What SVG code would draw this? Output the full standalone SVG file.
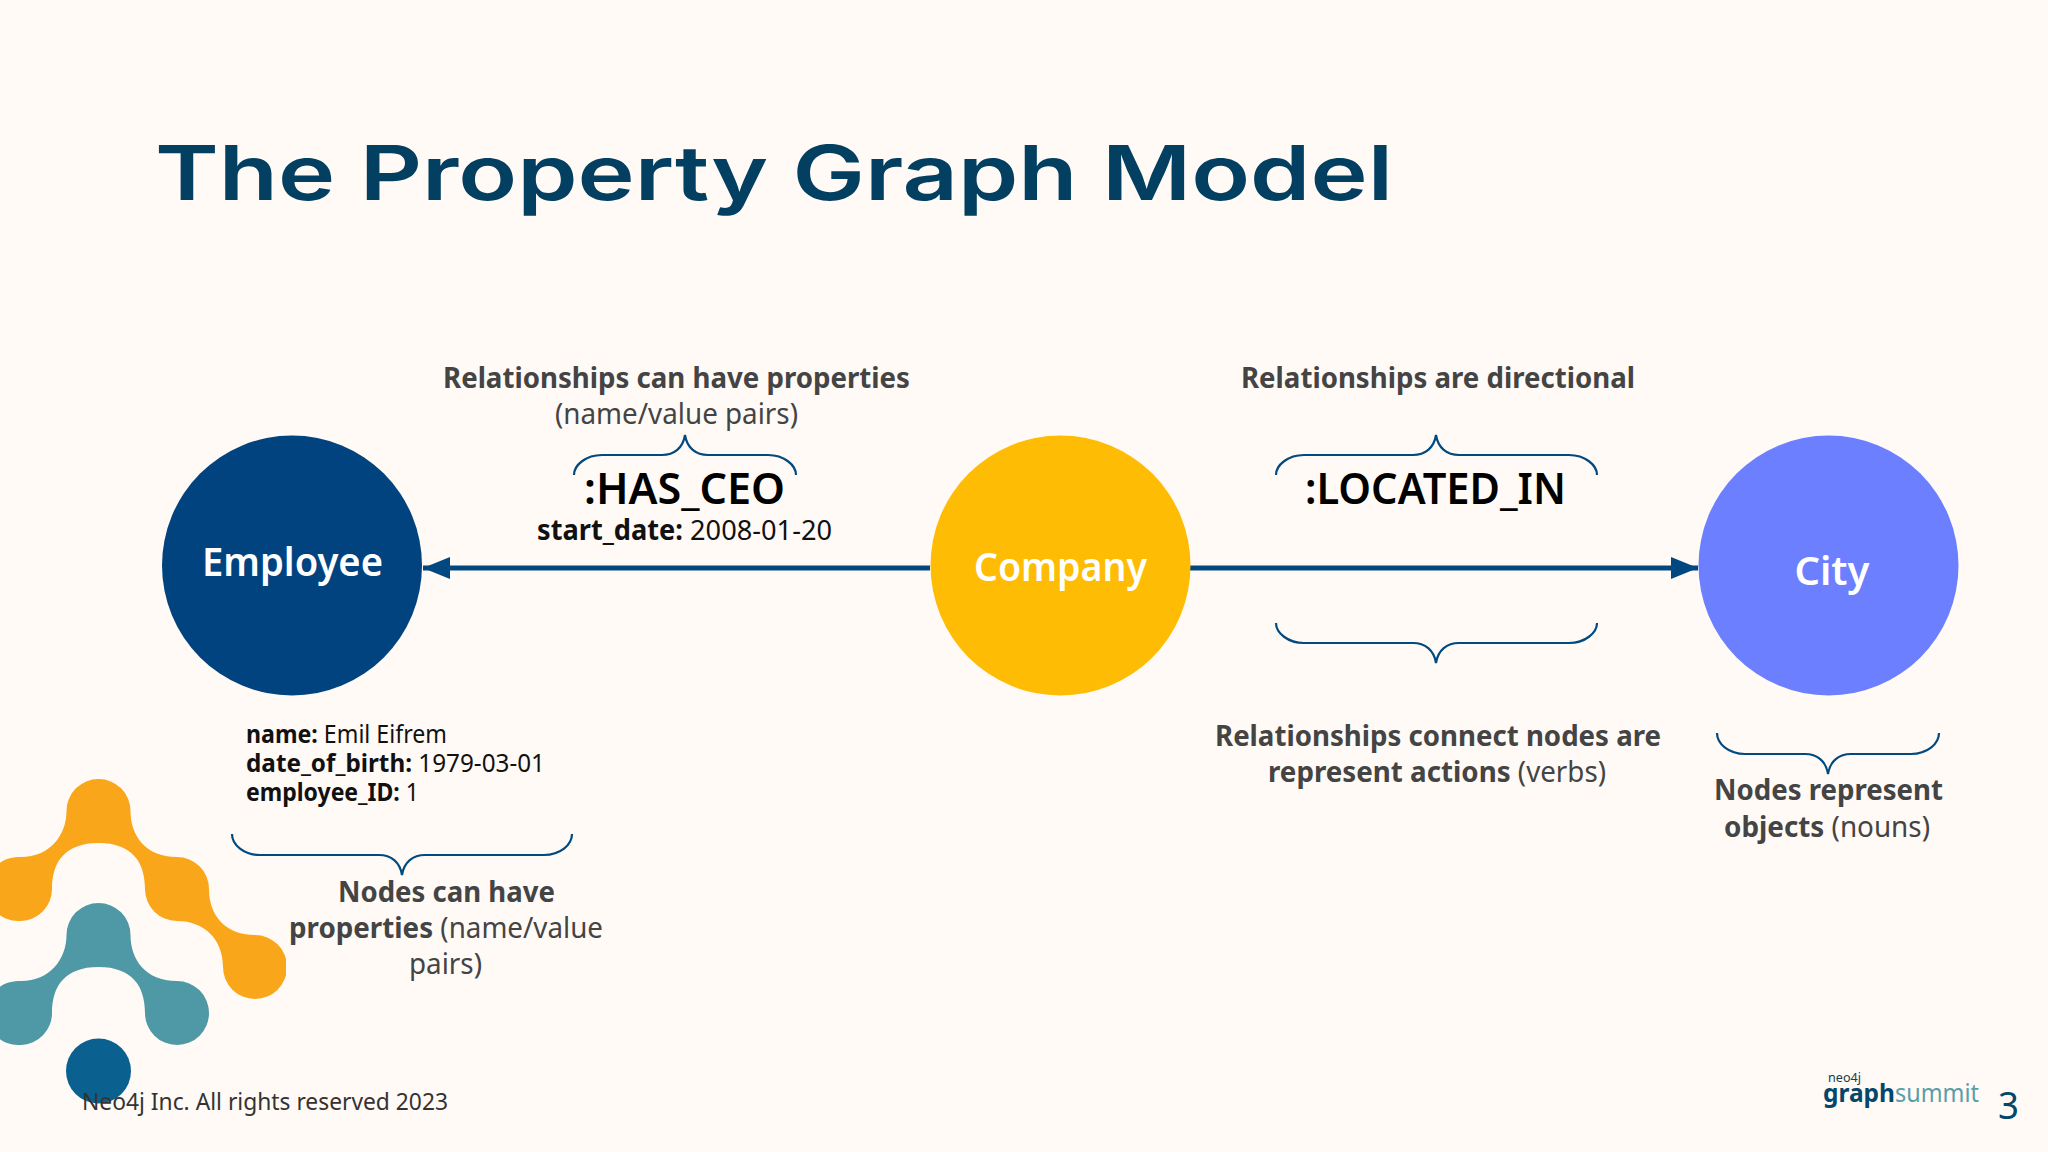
<svg xmlns="http://www.w3.org/2000/svg" width="2048" height="1152" viewBox="0 0 2048 1152">
<defs>
<style>
text{font-family:"Noto Sans","Open Sans",sans-serif}
.note{fill:#444444;font-size:29px;font-weight:400}
.prop{fill:#111111;font-size:25px;font-weight:400}
.rel{fill:#000000;font-size:44px;font-weight:600}
.node{fill:#ffffff;font-size:39px;font-weight:600;text-anchor:middle}
.b,.note.b{font-weight:700}
.brace{fill:none;stroke:#014a80;stroke-width:2.2}
.wire{stroke:#014880;stroke-width:5;fill:none}
</style>
<marker id="arrow" markerUnits="userSpaceOnUse" markerWidth="28" markerHeight="22" refX="27" refY="11" orient="auto">
<path d="M0 0L27 11L0 22Z" fill="#014880"/>
</marker>
<clipPath id="logoClip"><rect x="0" y="760" width="286" height="392"/></clipPath>
</defs>
<rect width="2048" height="1152" fill="#fffaf6"/>

<g id="decoration" clip-path="url(#logoClip)">
<path fill="#faa61a" d="M66.500 811A32 32 0 0 1 130.500 811C130.500 835 145 857 177 857A32 32 0 0 1 209 889C209 915 225 935 255 935A32 32 0 0 1 255 999A32 32 0 0 1 223 967C223 940 205 921 177 921A32 32 0 0 1 145 889C145 862 132 843 98.500 843C65 843 52 862 52 889A32 32 0 0 1 21 921C5 921 -10 915 -10 889C-10 863 5 857 21 857C50 857 66.500 835 66.500 811Z"/>
<path fill="#4f98a6" d="M66.500 935A32 32 0 0 1 130.500 935C130.500 959 145 981 177 981A32 32 0 0 1 177 1045A32 32 0 0 1 145 1013C145 986 132 967 98.500 967C65 967 52 986 52 1013A32 32 0 0 1 21 1045C5 1045 -10 1039 -10 1013C-10 987 5 981 21 981C50 981 66.500 959 66.500 935Z"/>
<circle cx="98.500" cy="1071" r="32.500" fill="#0a6190"/>
</g>

<text id="title" x="155" y="200" font-size="76" font-weight="600" fill="#023f60" textLength="1238" lengthAdjust="spacingAndGlyphs" style="font-family:Inter,'Noto Sans',sans-serif">The Property Graph Model</text>

<g id="connectors">
<line class="wire" x1="930" y1="568" x2="423" y2="568" marker-end="url(#arrow)"/>
<line class="wire" x1="1190" y1="568" x2="1698" y2="568" marker-end="url(#arrow)"/>
</g>

<g id="node-employee">
<circle cx="292" cy="565.500" r="130" fill="#01437e"/>
<text class="node" x="292.500" y="576" textLength="181" lengthAdjust="spacingAndGlyphs">Employee</text>
</g>
<g id="node-company">
<circle cx="1060.500" cy="565.500" r="130" fill="#ffbc05"/>
<text class="node" x="1060.500" y="581" textLength="173" lengthAdjust="spacingAndGlyphs">Company</text>
</g>
<g id="node-city">
<circle cx="1828.500" cy="565.500" r="130" fill="#6c7fff"/>
<text class="node" x="1832" y="585" textLength="75" lengthAdjust="spacingAndGlyphs">City</text>
</g>

<g id="braces">
<path class="brace" d="M574 475C574 465 586 455 602 455L662 455C674 455 683 448 685 435C687 448 696 455 708 455L768 455C784 455 796 465 796 475"/>
<path class="brace" d="M1276 475C1276 465 1288 455 1304 455L1413 455C1425 455 1434 448 1436 435C1438 448 1447 455 1459 455L1569 455C1585 455 1597 465 1597 475"/>
<path class="brace" d="M1276 623C1276 633 1288 643 1304 643L1413 643C1425 643 1434 650 1436 663C1438 650 1447 643 1459 643L1569 643C1585 643 1597 633 1597 623"/>
<path class="brace" d="M232 834C232 845 244 855 260 855L379 855C391 855 400 862 402 875C404 862 413 855 425 855L544 855C560 855 572 845 572 834"/>
<path class="brace" d="M1717 733C1717 744 1729 754 1745 754L1805 754C1817 754 1826 761 1828 774C1830 761 1839 754 1851 754L1911 754C1927 754 1939 744 1939 733"/>
</g>

<g id="labels">
<text class="note b" x="443" y="388" textLength="467" lengthAdjust="spacingAndGlyphs">Relationships can have properties</text>
<text class="note" x="555" y="424" textLength="243" lengthAdjust="spacingAndGlyphs">(name/value pairs)</text>
<text class="rel" x="584" y="504" textLength="201" lengthAdjust="spacingAndGlyphs">:HAS_CEO</text>
<text class="prop" x="537" y="540" style="font-size:28px" textLength="295" lengthAdjust="spacingAndGlyphs"><tspan class="b">start_date:</tspan> 2008-01-20</text>
<text class="note b" x="1241" y="388" textLength="394" lengthAdjust="spacingAndGlyphs">Relationships are directional</text>
<text class="rel" x="1305" y="504" textLength="261" lengthAdjust="spacingAndGlyphs">:LOCATED_IN</text>
<text class="note b" x="1215" y="746" textLength="446" lengthAdjust="spacingAndGlyphs">Relationships connect nodes are</text>
<text class="note" x="1268" y="782" textLength="338" lengthAdjust="spacingAndGlyphs"><tspan class="b">represent actions</tspan> (verbs)</text>
<text class="note b" x="1714" y="800" textLength="229" lengthAdjust="spacingAndGlyphs">Nodes represent</text>
<text class="note" x="1724" y="837" textLength="206" lengthAdjust="spacingAndGlyphs"><tspan class="b">objects</tspan> (nouns)</text>
<text class="prop" x="246" y="743" textLength="201" lengthAdjust="spacingAndGlyphs"><tspan class="b">name:</tspan> Emil Eifrem</text>
<text class="prop" x="246" y="772" textLength="299" lengthAdjust="spacingAndGlyphs"><tspan class="b">date_of_birth:</tspan> 1979-03-01</text>
<text class="prop" x="246" y="801" textLength="173" lengthAdjust="spacingAndGlyphs"><tspan class="b">employee_ID:</tspan> 1</text>
<text class="note b" x="338" y="902" textLength="217" lengthAdjust="spacingAndGlyphs">Nodes can have</text>
<text class="note" x="289" y="938" textLength="314" lengthAdjust="spacingAndGlyphs"><tspan class="b">properties</tspan> (name/value</text>
<text class="note" x="409" y="974" textLength="73" lengthAdjust="spacingAndGlyphs">pairs)</text>
</g>

<g id="footer">
<text x="82" y="1110" font-size="24" fill="#333333" textLength="366" lengthAdjust="spacingAndGlyphs">Neo4j Inc. All rights reserved 2023</text>
<text x="1828" y="1082" font-size="12" fill="#1a3a4a" textLength="33" lengthAdjust="spacingAndGlyphs">neo4j</text>
<text x="1823" y="1102" font-size="25" font-weight="700" fill="#04476a" textLength="72" lengthAdjust="spacingAndGlyphs">graph</text>
<text x="1895" y="1102" font-size="25" fill="#5a9ea6" textLength="84" lengthAdjust="spacingAndGlyphs">summit</text>
<text x="1998" y="1119" font-size="38" fill="#04476a" textLength="21" lengthAdjust="spacingAndGlyphs">3</text>
</g>
</svg>
